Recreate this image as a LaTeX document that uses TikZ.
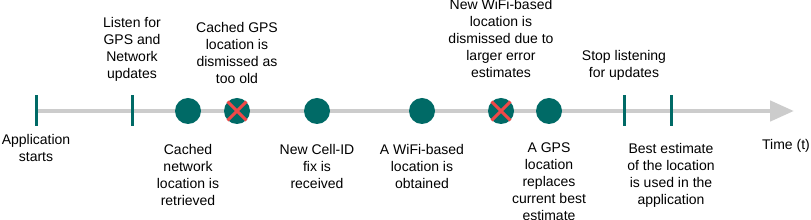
\documentclass[tikz,border=0pt]{standalone}
\usepackage{fontspec}
\setmainfont{Liberation Sans}
\usepackage{tikz}
\usetikzlibrary{arrows.meta, positioning}
\definecolor{evgreen}{HTML}{006A66}
\definecolor{axisgray}{HTML}{CCCCCC}
\definecolor{xred}{HTML}{F04848}

\begin{document}
\begin{tikzpicture}[
    x=0.75pt, y=-0.75pt,
    txt/.style={align=center, inner sep=0pt, font=\fontsize{10.5}{12.75}\selectfont},
    tick/.style={rectangle, fill=evgreen, minimum width=2.25pt, minimum height=23.25pt, inner sep=0pt},
    event/.style={circle, fill=evgreen, minimum size=19.5pt, inner sep=0pt},
    cross/.style={xred, line width=2.25pt},
    axis/.style={axisgray, line width=3.5pt, -{Triangle[length=18pt, width=15pt]}}
]
    \useasboundingbox (0,0) rectangle (811,220);

    % time axis
    \coordinate (t0) at (36,111);
    \coordinate (tend) at (794,111);
    \draw[axis] (t0) -- (tend);

    % ticks
    \node[tick] (start) at (36,111) {};
    \node[tick] (listen) at (132,111) {};
    \node[tick] (stop) at (624,111) {};
    \node[tick] (best) at (671,111) {};

    % location fixes
    \node[event] (cachednet) at (188,111) {};
    \node[event] (cachedgps) at (237,111) {};
    \node[event] (cellid) at (317,111) {};
    \node[event] (wifi) at (422,111) {};
    \node[event] (wifinew) at (501,111) {};
    \node[event] (gps) at (549,111) {};

    % dismissed fixes
    \draw[cross] (cachedgps.north west) -- (cachedgps.south east);
    \draw[cross] (cachedgps.north east) -- (cachedgps.south west);
    \draw[cross] (wifinew.north west) -- (wifinew.south east);
    \draw[cross] (wifinew.north east) -- (wifinew.south west);

    % labels above
    \node[txt, above=10.2pt of listen] (listentxt) {Listen for\\GPS and\\Network\\updates};
    \node[txt, above=10pt of cachedgps] (cachedgpstxt) {Cached GPS\\location is\\dismissed as\\too old};
    \node[txt, above=15pt of wifinew] (wifinewtxt) {New WiFi-based\\location is\\dismissed due to\\larger error\\estimates};
    \node[txt, above=11pt of stop] (stoptxt) {Stop listening\\for updates};

    % labels below
    \node[txt, below=5.6pt of start] (starttxt) {Application\\starts};
    \node[txt, below=15pt of cachednet] (cachednettxt) {Cached\\network\\location is\\retrieved};
    \node[txt, below=15pt of cellid] (cellidtxt) {New Cell-ID\\fix is\\received};
    \node[txt, below=15pt of wifi] (wifitxt) {A WiFi-based\\location is\\obtained};
    \node[txt, below=13.3pt of gps] (gpstxt) {A GPS\\location\\replaces\\current best\\estimate};
    \node[txt, below=12.6pt of best] (besttxt) {Best estimate\\of the location\\is used in the\\application};
    \node[txt, anchor=north] (time) at (786,139) {Time (t)};
\end{tikzpicture}
\end{document}
